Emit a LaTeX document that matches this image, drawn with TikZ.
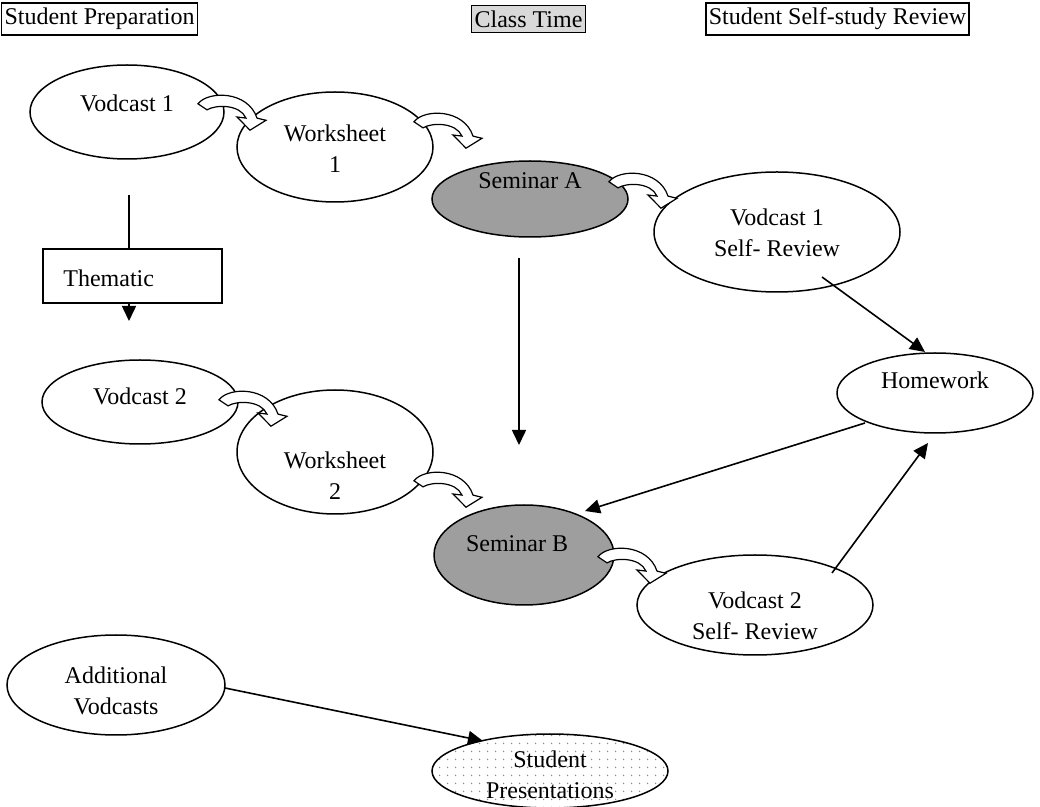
\documentclass[tikz,border=0pt]{standalone}
\usepackage{fontspec}
\setmainfont{Liberation Serif}
\usetikzlibrary{shapes.geometric,arrows.meta,patterns.meta}
\begin{document}
\begin{tikzpicture}[x=0.5pt,y=-0.5pt,
  font=\fontsize{12}{15.5}\selectfont,
  ell/.style={draw,ellipse,line width=0.75pt,inner sep=0pt,fill=white},
  esize/.style 2 args={minimum width=#1*1pt,minimum height=#2*1pt},
  lbl/.style={inner sep=0pt,align=center},
  hdr/.style={draw,line width=0.75pt,inner xsep=1.5pt,inner ysep=2.5pt},
  conn/.style={line width=0.8pt,-{Triangle[length=7.5pt,width=7pt]}},
  plain/.style={line width=0.8pt},
  bend arrow/.pic={
    \draw[fill=white,line width=0.6pt,line join=miter,yscale=1.1]
      (2,8) .. controls (12,-4) and (52,-4) .. (61,21) -- (70,23) -- (54,32)
      -- (41,20) -- (50,21) .. controls (44,8.5) and (20,8.5) .. (11,13.5) -- cycle;
  }
]
\useasboundingbox (0,0) rectangle (1040,807);

% headers
\node[hdr] (h1) at (99.5,19) {Student Preparation};
\node[hdr,fill=black!15] (h2) at (528.5,19) {Class Time};
\node[hdr] (h3) at (837.5,19) {Student Self-study Review};

% ellipses
\node[ell,esize={97}{47}] (v1) at (127,112) {};
\node[lbl] (v1t) at (127,103) {Vodcast 1};
\node[ell,esize={98}{55}] (ws1) at (335,147) {};
\node[lbl] (ws1t) at (335,149) {Worksheet\\1};
\node[ell,esize={98}{38},fill=black!38] (semA) at (530,199) {};
\node[lbl] (semAt) at (530,181) {Seminar A};
\node[ell,esize={123}{60}] (v1sr) at (777,232) {};
\node[lbl] (v1srt) at (777,233) {Vodcast 1\\Self- Review};
\node[ell,esize={98}{40}] (hw) at (935,393) {};
\node[lbl] (hwt) at (935,380) {Homework};
\node[ell,esize={98}{42}] (v2) at (140,402) {};
\node[lbl] (v2t) at (140,396) {Vodcast 2};
\node[ell,esize={98}{62}] (ws2) at (335,452) {};
\node[lbl] (ws2t) at (335,476) {Worksheet\\2};
\node[ell,esize={90}{50},fill=black!38] (semB) at (524,555) {};
\node[lbl] (semBt) at (517,544) {Seminar B};
\node[ell,esize={118}{50}] (v2sr) at (755,605) {};
\node[lbl] (v2srt) at (755,616) {Vodcast 2\\Self- Review};
\node[ell,esize={109}{50}] (addv) at (116,685) {};
\node[lbl] (addvt) at (116,691) {Additional\\Vodcasts};
\node[ell,esize={118}{37},pattern={Dots[distance=4pt,radius=0.45pt]},pattern color=black!45,preaction={fill=white}] (sp) at (550,771) {};
\node[lbl] (spt) at (550,775) {Student\\Presentations};

% thematic box
\node[draw,line width=0.75pt,minimum width=89.5pt,minimum height=27pt,inner sep=0pt] (th) at (132.5,276) {};
\node[lbl,anchor=west] (tht) at (63,278) {Thematic};

% curved block arrows
\pic at (196,95) {bend arrow};
\pic at (412,113) {bend arrow};
\pic at (607,173) {bend arrow};
\pic at (217,391) {bend arrow};
\pic at (412,472) {bend arrow};
\pic at (596,548) {bend arrow};

% straight connectors
\coordinate (a1) at (129,195);
\coordinate (a2) at (129,321);
\draw[plain] (a1) -- (a1 |- th.north);
\draw[conn] (th.south -| a2) -- (a2);
\coordinate (a3) at (519,258);
\coordinate (a4) at (519,445);
\draw[conn] (a3) -- (a4);
\coordinate (a5) at (822,277);
\coordinate (a6) at (925,352);
\draw[conn] (a5) -- (a6);
\coordinate (a7) at (865,423);
\coordinate (a8) at (585,511);
\draw[conn] (a7) -- (a8);
\coordinate (a9) at (832,573);
\coordinate (a10) at (928,443);
\draw[conn] (a9) -- (a10);
\coordinate (a11) at (225,688);
\coordinate (a12) at (483,741);
\draw[conn] (a11) -- (a12);
\end{tikzpicture}
\end{document}
